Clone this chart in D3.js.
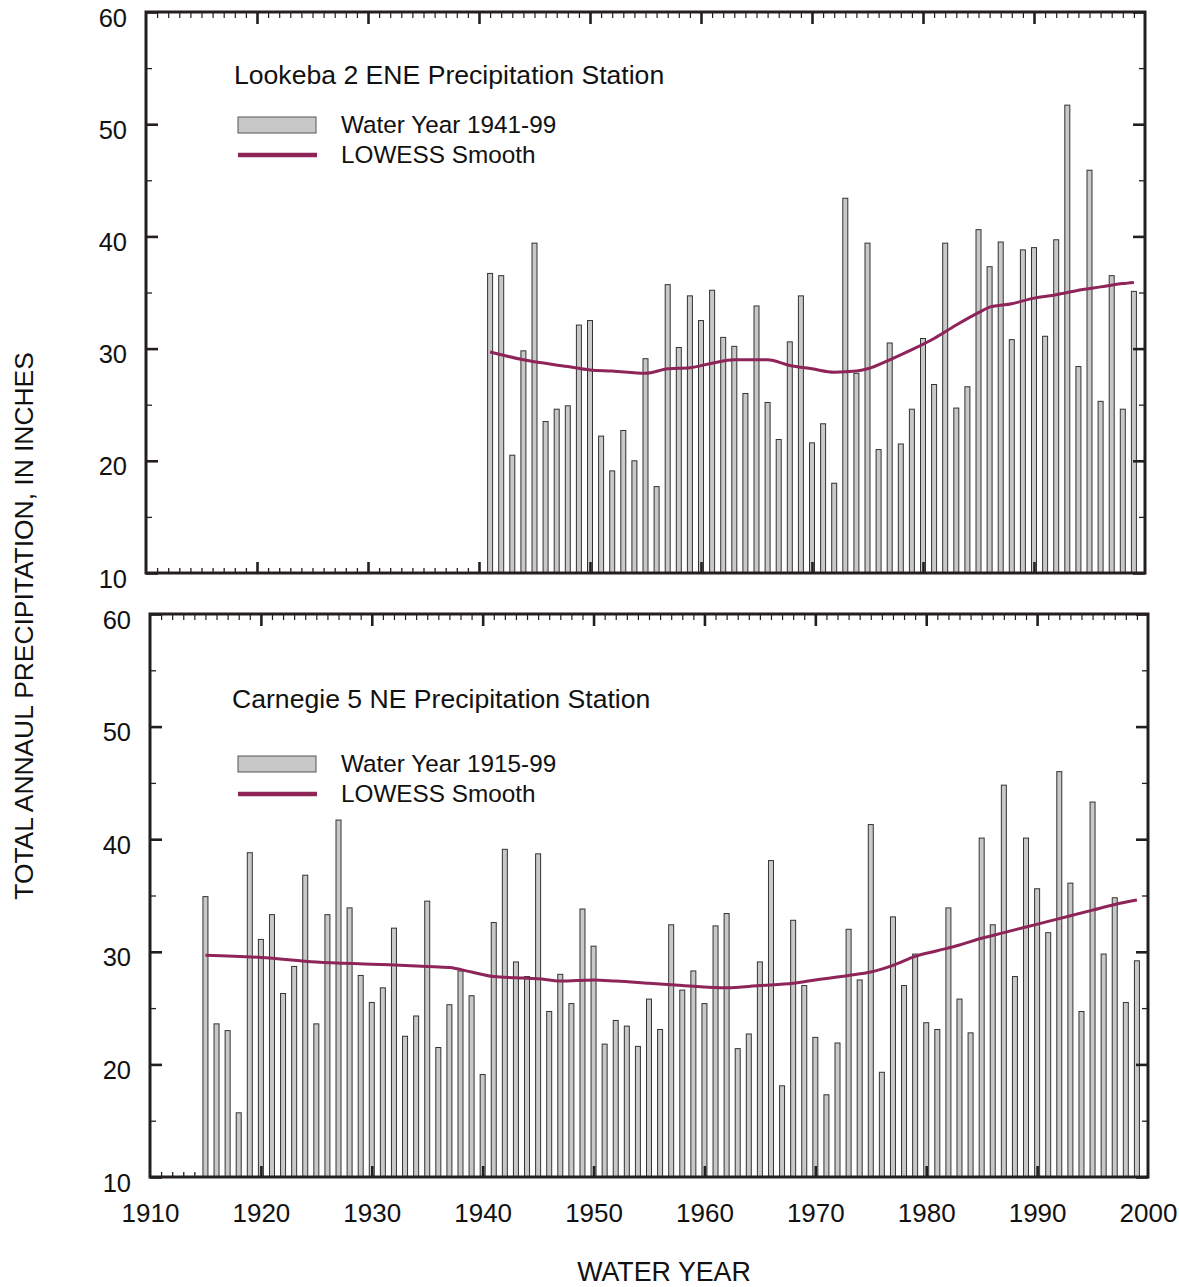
<!DOCTYPE html>
<html>
<head>
<meta charset="utf-8">
<script src="https://cdn.jsdelivr.net/npm/d3@7"></script>
<style>
  html, body { margin: 0; padding: 0; background: #ffffff; }
  svg { display: block; font-family: "Liberation Sans", Arial, Helvetica, sans-serif; }
</style>
</head>
<body>
<svg id="chart" width="1179" height="1287"></svg>
<script>
// Lookeba 2 ENE station, water years 1941-99 (inches)
const lookebaStart = 1941;
const lookebaValues = [
  36.7, 36.5, 20.5, 29.8, 39.4, 23.5, 24.6, 24.9, 32.1, 32.5,
  22.2, 19.1, 22.7, 20.0, 29.1, 17.7, 35.7, 30.1, 34.7, 32.5,
  35.2, 31.0, 30.2, 26.0, 33.8, 25.2, 21.9, 30.6, 34.7, 21.6,
  23.3, 18.0, 43.4, 27.8, 39.4, 21.0, 30.5, 21.5, 24.6, 30.9,
  26.8, 39.4, 24.7, 26.6, 40.6, 37.3, 39.5, 30.8, 38.8, 39.0,
  31.1, 39.7, 51.7, 28.4, 45.9, 25.3, 36.5, 24.6, 35.1
];
// LOWESS smooth for Lookeba
const lookebaSmoothYears = [1941, 1944, 1948, 1950, 1952, 1955, 1957, 1959, 1961, 1963, 1966, 1968, 1970, 1972, 1974, 1975, 1977, 1979, 1981, 1983, 1985, 1986, 1988, 1990, 1992, 1994, 1996, 1998, 1999];
const lookebaSmoothValues = [29.7, 29.0, 28.4, 28.1, 28.0, 27.8, 28.2, 28.3, 28.7, 29.0, 29.0, 28.5, 28.2, 27.9, 28.0, 28.2, 29.0, 29.9, 30.9, 32.1, 33.2, 33.7, 34.0, 34.5, 34.8, 35.2, 35.5, 35.8, 35.9];

// Carnegie 5 NE station, water years 1915-99 (inches)
const carnegieStart = 1915;
const carnegieValues = [
  34.9, 23.6, 23.0, 15.7, 38.8, 31.1, 33.3, 26.3, 28.7, 36.8,
  23.6, 33.3, 41.7, 33.9, 27.9, 25.5, 26.8, 32.1, 22.5, 24.3,
  34.5, 21.5, 25.3, 28.3, 26.1, 19.1, 32.6, 39.1, 29.1, 27.8,
  38.7, 24.7, 28.0, 25.4, 33.8, 30.5, 21.8, 23.9, 23.4, 21.6,
  25.8, 23.1, 32.4, 26.6, 28.3, 25.4, 32.3, 33.4, 21.4, 22.7,
  29.1, 38.1, 18.1, 32.8, 27.0, 22.4, 17.3, 21.9, 32.0, 27.5,
  41.3, 19.3, 33.1, 27.0, 29.8, 23.7, 23.1, 33.9, 25.8, 22.8,
  40.1, 32.4, 44.8, 27.8, 40.1, 35.6, 31.7, 46.0, 36.1, 24.7,
  43.3, 29.8, 34.8, 25.5, 29.2
];
// LOWESS smooth for Carnegie
const carnegieSmoothYears = [1915, 1920, 1925, 1930, 1935, 1937, 1939, 1941, 1943, 1945, 1947, 1950, 1952, 1955, 1958, 1962, 1965, 1968, 1970, 1973, 1975, 1977, 1979, 1981, 1983, 1985, 1987, 1989, 1991, 1993, 1995, 1997, 1999];
const carnegieSmoothValues = [29.7, 29.5, 29.1, 28.9, 28.7, 28.6, 28.2, 27.8, 27.7, 27.6, 27.4, 27.5, 27.4, 27.2, 27.0, 26.8, 27.0, 27.2, 27.5, 27.9, 28.2, 28.8, 29.6, 30.1, 30.6, 31.2, 31.7, 32.2, 32.7, 33.2, 33.7, 34.2, 34.6];

const yTickValues = [10, 20, 30, 40, 50, 60];
const yMinorValues = [15, 25, 35, 45, 55];
const xTickValues = [1910, 1920, 1930, 1940, 1950, 1960, 1970, 1980, 1990, 2000];

const panels = [
  {
    title: "Lookeba 2 ENE Precipitation Station",
    legendBar: "Water Year 1941-99",
    legendLine: "LOWESS Smooth",
    start: lookebaStart, values: lookebaValues,
    smoothYears: lookebaSmoothYears, smoothValues: lookebaSmoothValues,
    left: 146, right: 1145, top: 12, bottom: 573,
    titleX: 234, titleY: 84, legendY: 125, xLabels: false
  },
  {
    title: "Carnegie 5 NE Precipitation Station",
    legendBar: "Water Year 1915-99",
    legendLine: "LOWESS Smooth",
    start: carnegieStart, values: carnegieValues,
    smoothYears: carnegieSmoothYears, smoothValues: carnegieSmoothValues,
    left: 150, right: 1148, top: 614, bottom: 1177,
    titleX: 232, titleY: 708, legendY: 764, xLabels: true
  }
];

const svg = d3.select("#chart");
const ink = "#231f20";
const lineColor = "#8e2457";

panels.forEach(p => {
  const x = d3.scaleLinear().domain([1910, 2000]).range([p.left, p.right]);
  const y = d3.scaleLinear().domain([10, 60]).range([p.bottom, p.top]);
  const g = svg.append("g");

  const years = d3.range(1911, 2000);

  // minor yearly ticks on bottom (under the bars)
  g.append("g")
    .attr("transform", `translate(0,${p.bottom})`)
    .call(d3.axisBottom(x).tickValues(years.filter(v => v % 10 !== 0)).tickSize(-5).tickFormat(""))
    .call(a => a.select(".domain").remove())
    .call(a => a.selectAll("line").attr("stroke", ink).attr("stroke-width", 1.3));

  // bars
  const data = p.values.map((v, i) => ({ year: p.start + i, value: v }));
  const bw = 5;
  g.append("g").selectAll("rect").data(data).join("rect")
    .attr("x", d => x(d.year) - bw / 2)
    .attr("y", d => y(d.value))
    .attr("width", bw)
    .attr("height", d => p.bottom - y(d.value))
    .attr("fill", "#c8c8c8")
    .attr("stroke", "#333333")
    .attr("stroke-width", 1);

  // decade ticks on bottom (over the bars)
  g.append("g")
    .attr("transform", `translate(0,${p.bottom})`)
    .call(d3.axisBottom(x).tickValues(xTickValues.slice(1, -1)).tickSize(-11).tickFormat(""))
    .call(a => a.select(".domain").remove())
    .call(a => a.selectAll("line").attr("stroke", ink).attr("stroke-width", 2.6));

  // top axis: yearly minor + decade major ticks
  g.append("g")
    .attr("transform", `translate(0,${p.top})`)
    .call(d3.axisTop(x).tickValues(years.filter(v => v % 10 !== 0)).tickSize(-6).tickFormat(""))
    .call(a => a.select(".domain").remove())
    .call(a => a.selectAll("line").attr("stroke", ink).attr("stroke-width", 1.2));
  g.append("g")
    .attr("transform", `translate(0,${p.top})`)
    .call(d3.axisTop(x).tickValues(xTickValues.slice(1, -1)).tickSize(-12).tickFormat(""))
    .call(a => a.select(".domain").remove())
    .call(a => a.selectAll("line").attr("stroke", ink).attr("stroke-width", 2.6));

  // left axis with labels
  g.append("g")
    .attr("transform", `translate(${p.left},0)`)
    .call(d3.axisLeft(y).tickValues(yTickValues).tickSize(-12).tickPadding(19).tickFormat(d3.format("d")))
    .call(a => a.select(".domain").remove())
    .call(a => a.selectAll("line").attr("stroke", ink).attr("stroke-width", 2.6))
    .call(a => a.selectAll("text").attr("fill", "#111").style("font-size", "25.5px").attr("dy", "0.55em"));
  g.append("g")
    .attr("transform", `translate(${p.left},0)`)
    .call(d3.axisLeft(y).tickValues(yMinorValues).tickSize(-6).tickFormat(""))
    .call(a => a.select(".domain").remove())
    .call(a => a.selectAll("line").attr("stroke", ink).attr("stroke-width", 1.3));

  // right axis ticks
  g.append("g")
    .attr("transform", `translate(${p.right},0)`)
    .call(d3.axisRight(y).tickValues(yTickValues).tickSize(-12).tickFormat(""))
    .call(a => a.select(".domain").remove())
    .call(a => a.selectAll("line").attr("stroke", ink).attr("stroke-width", 2.6));
  g.append("g")
    .attr("transform", `translate(${p.right},0)`)
    .call(d3.axisRight(y).tickValues(yMinorValues).tickSize(-6).tickFormat(""))
    .call(a => a.select(".domain").remove())
    .call(a => a.selectAll("line").attr("stroke", ink).attr("stroke-width", 1.3));

  // x labels
  if (p.xLabels) {
    g.append("g")
      .attr("transform", `translate(0,${p.bottom})`)
      .call(d3.axisBottom(x).tickValues(xTickValues).tickSize(0).tickPadding(27).tickFormat(d3.format("d")))
      .call(a => a.select(".domain").remove())
      .call(a => a.selectAll("text").attr("fill", "#111").style("font-size", "26px"));
  }

  // LOWESS line
  const smooth = p.smoothYears.map((yr, i) => [yr, p.smoothValues[i]]);
  g.append("path")
    .datum(smooth)
    .attr("fill", "none")
    .attr("stroke", lineColor)
    .attr("stroke-width", 3)
    .attr("stroke-linejoin", "round")
    .attr("d", d3.line().x(d => x(d[0])).y(d => y(d[1])).curve(d3.curveMonotoneX));

  // frame
  g.append("rect")
    .attr("x", p.left).attr("y", p.top)
    .attr("width", p.right - p.left).attr("height", p.bottom - p.top)
    .attr("fill", "none").attr("stroke", ink).attr("stroke-width", 3);

  // title and legend
  g.append("text").attr("x", p.titleX).attr("y", p.titleY)
    .attr("fill", "#111").style("font-size", "26.6px").text(p.title);
  const lx = 238;
  g.append("rect").attr("x", lx).attr("y", p.legendY - 8).attr("width", 78).attr("height", 16)
    .attr("fill", "#c8c8c8").attr("stroke", "#555").attr("stroke-width", 1);
  g.append("text").attr("x", 341).attr("y", p.legendY + 8)
    .attr("fill", "#111").style("font-size", "24.3px").text(p.legendBar);
  g.append("line").attr("x1", lx).attr("x2", lx + 79).attr("y1", p.legendY + 30).attr("y2", p.legendY + 30)
    .attr("stroke", lineColor).attr("stroke-width", 4.5);
  g.append("text").attr("x", 341).attr("y", p.legendY + 38)
    .attr("fill", "#111").style("font-size", "24.3px").text(p.legendLine);
});

// axis titles
svg.append("text")
  .attr("x", 664).attr("y", 1281)
  .attr("text-anchor", "middle").attr("fill", "#111").style("font-size", "26.8px")
  .text("WATER YEAR");
svg.append("text")
  .attr("transform", "translate(33,626) rotate(-90)")
  .attr("text-anchor", "middle").attr("fill", "#111").style("font-size", "26.4px")
  .text("TOTAL ANNAUL PRECIPITATION, IN INCHES");
</script>
</body>
</html>
